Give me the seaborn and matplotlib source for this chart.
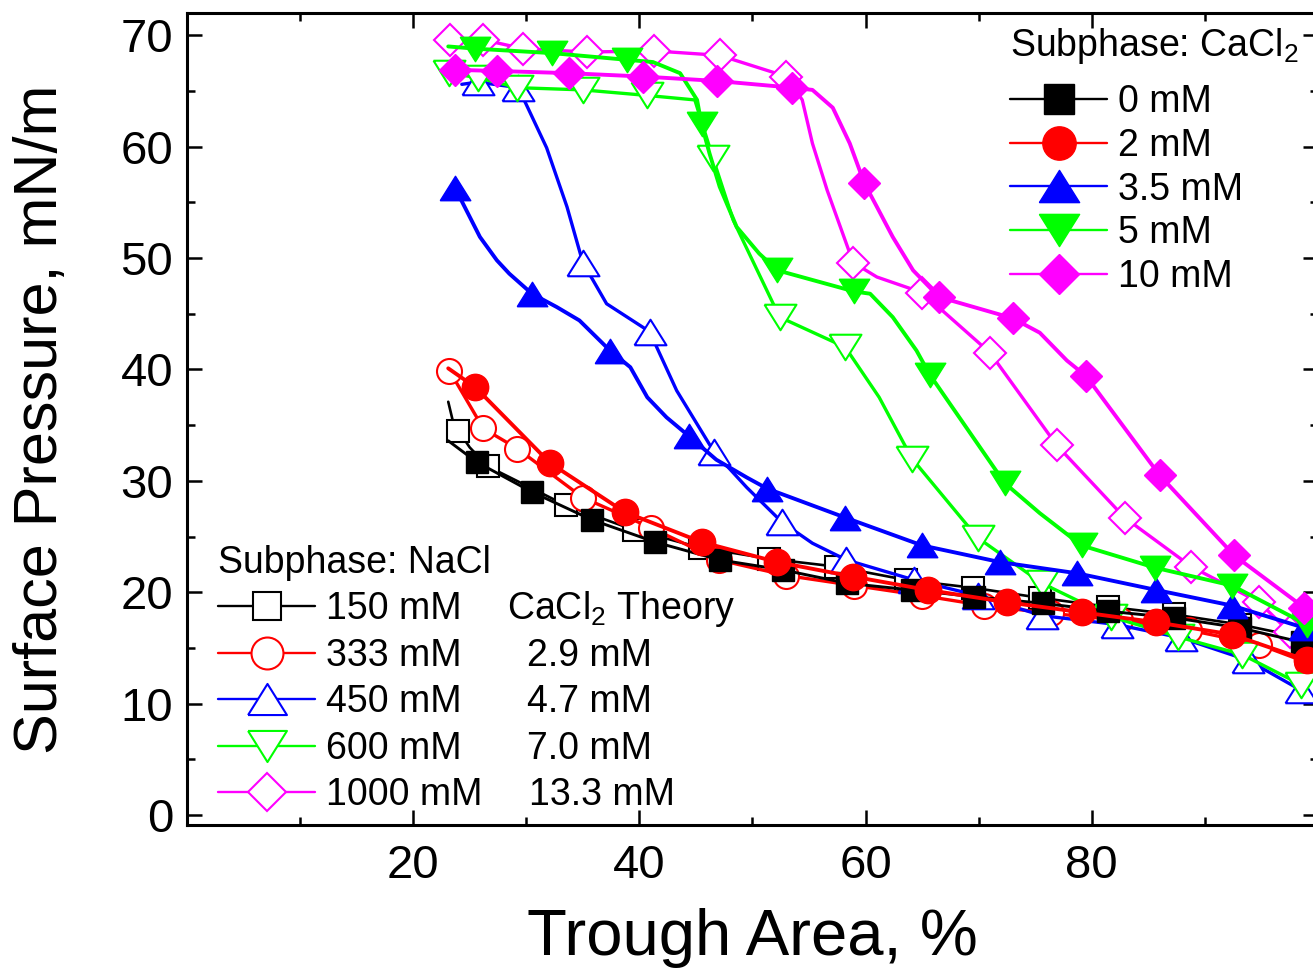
import matplotlib.pyplot as plt
import numpy as np
import seaborn as sns
from matplotlib.lines import Line2D
from matplotlib.transforms import IdentityTransform

# ---- CaCl2 subphase (filled markers); mk = indices of points that carry a marker
ca0_x = [23.1, 25.6, 30.5, 35.8, 41.4, 47.1, 52.7, 58.4, 64.1, 69.6, 75.7, 81.4, 87.3, 93.1, 98.6]
ca0_y = [33.6, 31.7, 29.0, 26.5, 24.5, 22.9, 22.0, 20.8, 20.2, 19.6, 19.0, 18.3, 17.7, 16.8, 15.5]
ca0_mk = list(range(1, 15))

ca2_x = [23.1, 25.5, 32.1, 38.7, 45.5, 52.2, 58.9, 65.5, 72.5, 79.1, 85.7, 92.4, 99.0]
ca2_y = [40.1, 38.4, 31.6, 27.2, 24.5, 22.7, 21.4, 20.2, 19.1, 18.2, 17.3, 16.2, 13.9]
ca2_mk = list(range(1, 13))

ca35_x = [23.7, 25.9, 27.4, 28.5, 30.5, 32.7, 34.7, 37.4, 39.2, 40.7, 42.4, 44.4,
          46.8, 49.5, 51.3, 58.2, 65.0, 71.9, 78.7, 85.7, 92.4, 98.8]
ca35_y = [56.3, 51.9, 49.8, 48.6, 46.8, 45.6, 44.4, 41.7, 40.2, 37.5, 35.7, 34.0,
          31.9, 30.3, 29.3, 26.7, 24.2, 22.7, 21.7, 20.2, 18.8, 16.8]
ca35_mk = [0, 4, 7, 11, 14, 15, 16, 17, 18, 19, 20, 21]

ca5_x = [23.1, 25.5, 32.3, 38.9, 41.2, 43.6, 45.1, 45.5, 46.2, 47.1, 48.6, 50.6, 52.2,
         59.0, 60.4, 62.4, 64.5, 65.7, 72.3, 75.4, 79.1, 85.6, 92.4, 99.0]
ca5_y = [69.0, 68.8, 68.4, 67.8, 67.6, 66.6, 64.2, 62.0, 59.4, 56.4, 52.8, 50.4, 48.9,
         47.0, 46.8, 44.7, 41.7, 39.5, 29.8, 27.1, 24.2, 22.2, 20.6, 17.1]
ca5_mk = [1, 2, 3, 7, 12, 13, 17, 18, 20, 21, 22, 23]

ca10_x = [23.7, 27.4, 33.8, 40.3, 46.9, 53.5, 55.3, 57.1, 58.6, 59.9, 61.0, 62.4, 64.2,
          66.5, 73.0, 75.4, 77.8, 79.5, 86.0, 92.6, 98.8]
ca10_y = [66.9, 66.8, 66.6, 66.3, 65.9, 65.3, 65.1, 63.5, 60.3, 56.7, 54.6, 51.9, 48.9,
          46.5, 44.6, 43.3, 40.8, 39.4, 30.5, 23.3, 18.6]
ca10_mk = [0, 1, 2, 3, 4, 5, 9, 13, 14, 17, 18, 19, 20]

# ---- NaCl subphase (open markers)
na150_x = [23.1, 23.5, 24.0, 25.0, 26.6, 33.5, 39.5, 45.4, 51.5, 57.4, 63.6, 69.5, 75.4,
           81.4, 87.3, 93.1, 98.8]
na150_y = [37.1, 35.4, 34.5, 33.0, 31.3, 27.8, 25.6, 24.0, 23.0, 22.3, 21.1, 20.4, 19.5,
           18.7, 18.0, 17.1, 15.9]
na150_mk = [2] + list(range(4, 17))

na333_x = [23.2, 26.2, 29.2, 35.0, 41.0, 47.0, 53.0, 59.0, 65.0, 70.5, 76.4, 82.5, 88.6, 94.8, 99.0]
na333_y = [39.9, 34.7, 32.9, 28.5, 25.8, 22.9, 21.5, 20.6, 19.7, 18.8, 18.1, 17.5, 16.6, 15.3, 13.7]
na333_mk = list(range(0, 15))

na450_x = [24.3, 25.7, 29.3, 31.8, 33.6, 35.0, 37.1, 40.9, 43.3, 46.6, 49.5, 52.6, 55.3,
           58.3, 64.3, 69.9, 75.6, 82.2, 87.9, 93.8, 98.5]
na450_y = [65.6, 65.8, 65.3, 59.9, 54.6, 49.6, 45.9, 43.4, 38.1, 32.6, 29.4, 26.3, 24.4,
           22.9, 21.1, 19.7, 17.9, 17.1, 15.9, 13.9, 11.2]
na450_mk = [1, 2, 5, 7, 9, 11, 13, 14, 15, 16, 17, 18, 19, 20]

na600_x = [23.2, 25.7, 29.2, 35.0, 40.7, 44.9, 46.5, 48.3, 52.4, 58.2, 61.2, 64.1, 69.9,
           75.6, 81.7, 87.6, 93.3, 98.5]
na600_y = [66.6, 66.2, 65.3, 65.1, 64.6, 64.2, 59.0, 53.4, 44.7, 42.0, 37.5, 32.0, 24.9,
           20.8, 17.8, 16.0, 14.4, 11.7]
na600_mk = [0, 1, 2, 3, 4, 6, 8, 9, 11, 12, 13, 14, 15, 16, 17]

na1000_x = [23.3, 26.2, 29.7, 35.4, 41.3, 47.1, 53.0, 54.4, 55.3, 56.6, 58.9, 61.0, 65.0,
            71.0, 76.9, 82.9, 88.8, 94.8, 97.5]
na1000_y = [69.6, 69.6, 68.8, 68.5, 68.6, 68.2, 66.3, 64.2, 60.3, 56.1, 49.6, 48.3, 46.9,
            41.5, 33.2, 26.7, 22.3, 19.1, 16.4]
na1000_mk = [0, 1, 2, 3, 4, 5, 6, 10, 12, 13, 14, 15, 16, 17, 18]

ca_labels = ["0 mM", "2 mM", "3.5 mM", "5 mM", "10 mM"]
na_labels = ["150 mM", "333 mM", "450 mM", "600 mM", "1000 mM"]
theory_labels = ["CaCl$_2$ Theory", "2.9 mM", "4.7 mM", "7.0 mM", "13.3 mM"]

colors = ["#000000", "#ff0000", "#0000ff", "#00ff00", "#ff00ff"]

TRI_UP = [(-1, -0.8), (1, -0.8), (0, 0.8), (-1, -0.8)]
TRI_DN = [(-1, 0.8), (1, 0.8), (0, -0.8), (-1, 0.8)]
markers = ["s", "o", TRI_UP, TRI_DN, "D"]
plot_ms = [16, 19, 22, 22, 16]
leg_ms = [22, 24, 29, 29, 20]
open_ms = [16, 18, 23, 23, 16]
open_leg_ms = [20, 23, 28, 28, 19]

sns.set_style("ticks", {"axes.edgecolor": "black", "xtick.color": "black",
                        "ytick.color": "black", "text.color": "black",
                        "axes.labelcolor": "black"})
plt.rcParams["font.family"] = ["Liberation Sans", "DejaVu Sans"]
plt.rcParams["mathtext.default"] = "regular"

fig = plt.figure(figsize=(13.13, 9.73), dpi=100)
ax = fig.add_axes([0.1424, 0.1521, 0.8614, 0.8345])


def draw(x, y, mk, color, marker, ms, filled, lw):
    sns.lineplot(x=np.array(x), y=np.array(y), ax=ax, sort=False, estimator=None,
                 color=color, lw=lw, marker=marker, markevery=mk, markersize=ms,
                 markerfacecolor=color if filled else "white",
                 markeredgecolor=color, markeredgewidth=1.0 if filled else 1.5,
                 legend=False)


na_series = [(na150_x, na150_y, na150_mk), (na333_x, na333_y, na333_mk),
             (na450_x, na450_y, na450_mk), (na600_x, na600_y, na600_mk),
             (na1000_x, na1000_y, na1000_mk)]
ca_series = [(ca0_x, ca0_y, ca0_mk), (ca2_x, ca2_y, ca2_mk), (ca35_x, ca35_y, ca35_mk),
             (ca5_x, ca5_y, ca5_mk), (ca10_x, ca10_y, ca10_mk)]

for i, (x, y, mk) in enumerate(na_series):
    draw(x, y, mk, colors[i], markers[i], open_ms[i], False, 1.9 if i == 0 else 2.4)
for i, (x, y, mk) in enumerate(ca_series):
    draw(x, y, mk, colors[i], markers[i], plot_ms[i], True, 2.1 if i == 0 else 2.8)

ax.set_xlim(0, 100)
ax.set_ylim(-0.9, 72)
ax.set_xticks([20, 40, 60, 80])
ax.set_xticks([10, 30, 50, 70, 90], minor=True)
ax.set_yticks(range(0, 71, 10))
ax.set_yticks(range(5, 72, 10), minor=True)
ax.tick_params(which="both", direction="in", top=True, right=True, width=1.8,
               labelsize=34)
ax.tick_params(which="major", length=11)
ax.tick_params(which="minor", length=6)
ax.tick_params(axis="x", pad=14)
ax.tick_params(axis="y", pad=10)
for sp in ax.spines.values():
    sp.set_linewidth(2.2)

ax.set_xlabel("Trough Area, %", fontsize=47, labelpad=14)
ax.set_ylabel("Surface Pressure, mN/m", fontsize=44, labelpad=36)

ca_handles = [Line2D([], [], color=colors[i], lw=1.7, marker=markers[i], ms=leg_ms[i],
                     mfc=colors[i], mec=colors[i], mew=1.0) for i in range(5)]
na_handles = [Line2D([], [], color=colors[i], lw=1.7, marker=markers[i],
                     ms=open_leg_ms[i], mfc="white", mec=colors[i], mew=1.5)
              for i in range(5)]

leg_ca = ax.legend(ca_handles, ca_labels, title="Subphase: CaCl$_2$", loc="upper left",
                   bbox_to_anchor=(0.7692, 0.9735), bbox_transform=fig.transFigure,
                   frameon=False, fontsize=27, title_fontsize=27, borderpad=0,
                   borderaxespad=0, handlelength=2.6, handletextpad=0.27,
                   labelspacing=0.21, alignment="left")
leg_ca._legend_box.sep = 13
ax.add_artist(leg_ca)
leg_na = ax.legend(na_handles, na_labels, title="Subphase: NaCl", loc="upper left",
                   bbox_to_anchor=(0.166, 0.440), bbox_transform=fig.transFigure,
                   frameon=False, fontsize=27, title_fontsize=27, borderpad=0,
                   borderaxespad=0, handlelength=2.6, handletextpad=0.27,
                   labelspacing=0.28, alignment="left")

# theory column aligned to the NaCl legend rows
fig.canvas.draw()
theory_x = [507, 527, 527, 527, 529]
for txt, s, xp in zip(leg_na.get_texts(), theory_labels, theory_x):
    _, yb = txt.get_transform().transform((0, 0))
    fig.text(xp, yb, s, transform=IdentityTransform(), fontsize=27,
             ha="left", va="baseline")

fig.savefig("out.png", dpi=100)
